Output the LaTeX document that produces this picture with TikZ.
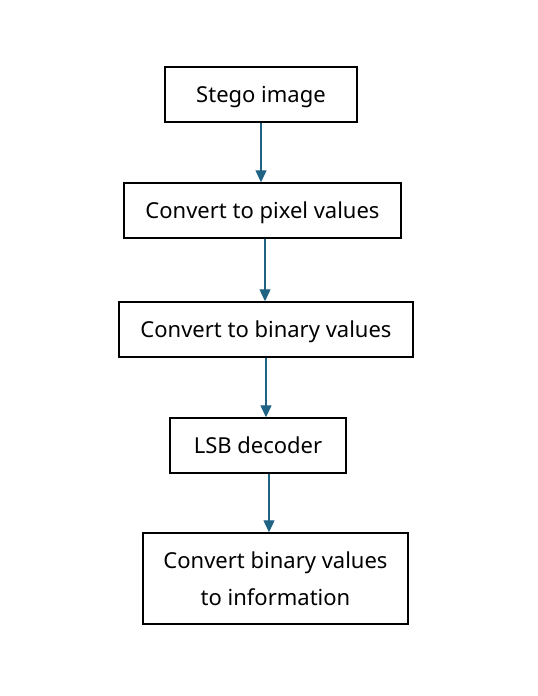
\documentclass[tikz,border=0pt]{standalone}
\usepackage{fontspec}
\setmainfont{Noto Sans}
\usetikzlibrary{arrows.meta}
\definecolor{arrowblue}{HTML}{1F6284}
\tikzset{
  box/.style={draw=black, line width=1.4pt, rectangle, inner sep=0pt, align=center,
    font=\fontsize{22}{37}\selectfont},
  oneline/.style={text depth=0pt},
  arr/.style={draw=arrowblue, line width=1.2pt, -{Triangle[width=11pt,length=12pt]}}
}
\begin{document}
\begin{tikzpicture}[x=1pt,y=-1pt]
\useasboundingbox (0,0) rectangle (538,696);
\node[box, oneline, minimum width=192pt, minimum height=55pt] (b1) at (261,94.5) {Stego image};
\node[box, oneline, minimum width=277pt, minimum height=55pt] (b2) at (262.5,210.5) {Convert to pixel values};
\node[box, oneline, minimum width=294pt, minimum height=55pt] (b3) at (266,329.5) {Convert to binary values};
\node[box, oneline, minimum width=176pt, minimum height=55pt] (b4) at (258,445.5) {LSB decoder};
\node[box, minimum width=265pt, minimum height=91pt] (b5) at (275.5,578.5) {Convert binary values\\to information};
\coordinate (x1) at (261,0);
\coordinate (x2) at (265,0);
\coordinate (x3) at (266,0);
\coordinate (x4) at (269,0);
\draw[arr] (b1.south -| x1) -- (b2.north -| x1);
\draw[arr] (b2.south -| x2) -- (b3.north -| x2);
\draw[arr] (b3.south -| x3) -- (b4.north -| x3);
\draw[arr] (b4.south -| x4) -- (b5.north -| x4);
\end{tikzpicture}
\end{document}
